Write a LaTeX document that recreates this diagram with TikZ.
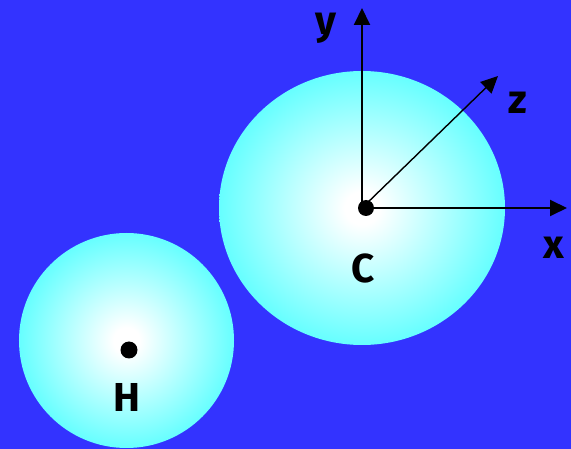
\documentclass[tikz,border=0pt]{standalone}
\usepackage{fontspec}
\newfontfamily\lblfont{Fira Sans}
\usetikzlibrary{positioning, arrows.meta, shapes.geometric}
\definecolor{sky}{HTML}{3333FF}
\definecolor{aqua}{HTML}{66FFFF}
\pgfdeclareradialshading{ball}{\pgfpoint{0bp}{0bp}}{color(0bp)=(white); color(3bp)=(white); color(25bp)=(aqua); color(50bp)=(aqua)}

\begin{document}
\begin{tikzpicture}[
    sphere/.style={ellipse, shading=ball, inner sep=0pt},
    nucleus/.style={circle, fill=black, inner sep=0pt, minimum size=0.32cm},
    axis/.style={-{Triangle[length=0.34cm, width=0.32cm]}, line width=1.1pt},
    lbl/.style={font=\lblfont\bfseries\fontsize{23}{25}\selectfont, inner sep=0pt}
]

% Background
\fill[sky] (0,0) rectangle (11.42,-8.98);
\useasboundingbox (0,0) rectangle (11.42,-8.98);

% Spheres
\node[sphere, minimum width=5.72cm, minimum height=5.48cm] (cball) at (7.24,-4.16) {};
\node[sphere, minimum width=4.3cm, minimum height=4.3cm] (hball) at (2.53,-6.81) {};

% Axes
\coordinate (o) at (7.24,-4.16);
\coordinate (ytip) at (7.24,-0.16);
\coordinate (xtip) at (11.34,-4.16);
\coordinate (ztip) at (9.96,-1.52);
\draw[axis] (o) -- (ytip);
\draw[axis] (o) -- (xtip);
\draw[axis, line width=0.8pt] (o) -- (ztip);

% Nuclei
\node[nucleus] (c) at (7.32,-4.16) {};
\node[nucleus, minimum size=0.34cm] (h) at (2.58,-7.0) {};

% Labels
\node[lbl] (ylbl) at (6.52,-0.56) {y};
\node[lbl] (zlbl) at (10.36,-2.06) {z};
\node[lbl] (xlbl) at (11.08,-4.96) {x};
\node[lbl] (clbl) at (7.26,-5.36) {C};
\node[lbl] (hlbl) at (2.54,-7.94) {H};

\end{tikzpicture}
\end{document}
